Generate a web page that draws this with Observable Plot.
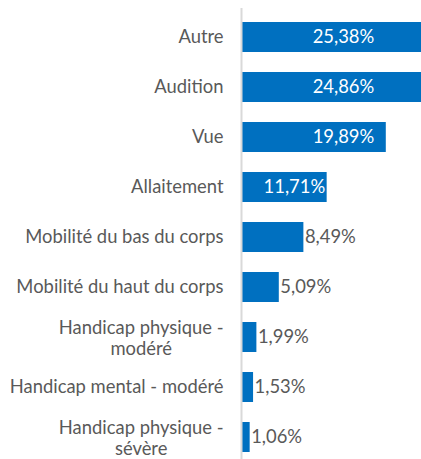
<!DOCTYPE html>
<html>
<head>
<meta charset="utf-8">
<script src="https://cdn.jsdelivr.net/npm/d3@7"></script>
<script src="https://cdn.jsdelivr.net/npm/@observablehq/plot@0.6"></script>
<style>
  html, body { margin: 0; padding: 0; background: #fff; overflow: hidden; }
</style>
</head>
<body>
<div id="chart"></div>
<script>
const categories = [
  "Autre",
  "Audition",
  "Vue",
  "Allaitement",
  "Mobilité du bas du corps",
  "Mobilité du haut du corps",
  "Handicap physique -\nmodéré",
  "Handicap mental - modéré",
  "Handicap physique -\nsévère"
];
const values = [25.38, 24.86, 19.89, 11.71, 8.49, 5.09, 1.99, 1.53, 1.06];

const data = categories.map((label, i) => ({label, value: values[i]}));
const fmt = v => v.toFixed(2).replace(".", ",") + "%";

const FONT = "Lato";
const FS = 18.4;
const ctx = document.createElement("canvas").getContext("2d");
ctx.font = `${FS}px ${FONT}`;

const single = data.filter(d => !d.label.includes("\n"));
const multi = data.filter(d => d.label.includes("\n"));
const multiW = d3.max(multi, d => d3.max(d.label.split("\n"), s => ctx.measureText(s).width));

const outside = data.filter(d => d.value < 10);
const inside = data.filter(d => d.value >= 10);

const chart = Plot.plot({
  width: 421,
  height: 459,
  marginLeft: 242,
  marginRight: 0,
  marginTop: 0,
  marginBottom: 0,
  style: {fontFamily: FONT, fontSize: FS + "px", color: "#595959", overflow: "hidden", background: "white"},
  x: {domain: [0, 24.76], axis: null},
  y: {domain: categories, range: [8.6, 465.4], paddingInner: 0.41, paddingOuter: 0.205, axis: null},
  marks: [
    Plot.barX(data, {x: "value", y: "label", fill: "#0070c0"}),
    Plot.ruleX([0], {stroke: "#d9d9d9", strokeWidth: 2, dx: -1, insetTop: 8}),
    Plot.text(single, {frameAnchor: "left", y: "label", text: "label", textAnchor: "end", dx: -19, fill: "#595959", fontSize: FS}),
    Plot.text(multi, {frameAnchor: "left", y: "label", text: "label", textAnchor: "middle", dx: -19 - multiW / 2, lineHeight: 1.15, fill: "#595959", fontSize: FS}),
    Plot.text(outside, {x: "value", y: "label", text: d => fmt(d.value), textAnchor: "start", dx: 1, fill: "#595959", fontSize: FS}),
    Plot.text(inside, {x: d => Math.min(d.value, 18.5), y: "label", text: d => fmt(d.value), textAnchor: "end", dx: -2, fill: "white", fontSize: FS})
  ]
});
document.getElementById("chart").appendChild(chart);
</script>
</body>
</html>
